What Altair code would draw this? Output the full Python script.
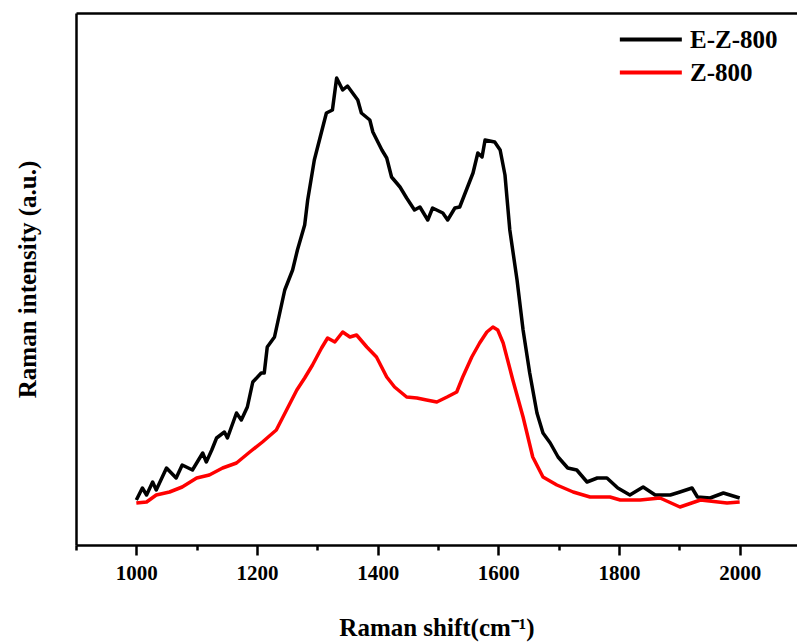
import altair as alt
import pandas as pd

# E-Z-800 spectrum (Raman shift in cm-1, intensity in a.u.)
ez_shift = [1000, 1010, 1017, 1027, 1033, 1050, 1066, 1076, 1093, 1110, 1116, 1125, 1133,
            1146, 1151, 1166, 1174, 1184, 1193, 1207, 1212, 1217, 1229, 1246, 1259, 1267,
            1279, 1284, 1295, 1315, 1325, 1332, 1342, 1350, 1367, 1373, 1387, 1392, 1407,
            1415, 1423, 1437, 1448, 1461, 1470, 1483, 1491, 1508, 1516, 1528, 1536, 1558,
            1566, 1573, 1578, 1594, 1603, 1611, 1619, 1631, 1641, 1652, 1664, 1674, 1686,
            1699, 1715, 1730, 1747, 1764, 1780, 1798, 1818, 1840, 1860, 1885, 1901, 1921,
            1930, 1951, 1973, 2000]
ez_int = [45, 57, 50, 63, 55, 77, 67, 80, 75, 92, 83, 95, 107,
          113, 107, 132, 125, 138, 163, 172, 172, 198, 208, 255, 275, 295,
          320, 345, 385, 432, 435, 467, 455, 459, 445, 432, 425, 413, 395,
          387, 368, 358, 347, 335, 338, 325, 337, 332, 325, 337, 338, 372,
          392, 388, 405, 403, 395, 370, 315, 265, 215, 172, 132, 112, 102,
          88, 77, 75, 63, 67, 67, 57, 50, 58, 50, 50, 53, 57,
          48, 47, 52, 47]

# Z-800 spectrum
z_shift = [1000, 1017, 1033, 1055, 1076, 1100, 1121, 1143, 1166, 1188, 1209, 1232, 1249,
           1266, 1279, 1292, 1307, 1317, 1329, 1342, 1354, 1365, 1382, 1398, 1415, 1428,
           1448, 1465, 1481, 1498, 1515, 1531, 1541, 1556, 1569, 1581, 1591, 1599, 1608,
           1624, 1641, 1657, 1674, 1697, 1724, 1752, 1785, 1802, 1835, 1868, 1901,
           1935, 1979, 2000]
z_int = [42, 43, 50, 53, 58, 67, 70, 77, 82, 93, 103, 115, 135,
         155, 167, 180, 197, 207, 203, 213, 208, 210, 198, 188, 168, 158,
         148, 147, 145, 143, 148, 153, 168, 188, 202, 213, 218, 215, 202,
         165, 128, 88, 68, 60, 53, 48, 48, 45, 45, 47, 38,
         45, 42, 43]

series_names = ["E-Z-800", "Z-800"]
series_colors = ["#000000", "#ff0000"]

major_ticks = [1000, 1200, 1400, 1600, 1800, 2000]
minor_ticks = [900, 1100, 1300, 1500, 1700, 1900]

df = pd.concat([
    pd.DataFrame({"shift": ez_shift, "intensity": ez_int, "series": series_names[0]}),
    pd.DataFrame({"shift": z_shift, "intensity": z_int, "series": series_names[1]}),
], ignore_index=True)

FONT = "Liberation Serif"
x_scale = alt.Scale(domain=[900, 2095], nice=False, zero=False)
y_scale = alt.Scale(domain=[0, 532], nice=False, zero=False)
color_scale = alt.Scale(domain=series_names, range=series_colors)

main = alt.Chart(df).mark_line(strokeWidth=3.5, strokeJoin="round").encode(
    x=alt.X("shift:Q", scale=x_scale,
            axis=alt.Axis(orient="bottom", values=major_ticks, format="d",
                          tickSize=10, tickWidth=2.5, tickColor="black",
                          domainWidth=2.5, domainColor="black", grid=False,
                          labelFont=FONT, labelFontSize=21, labelFontWeight="bold",
                          labelColor="black", labelPadding=7,
                          title="Raman shift(cm⁻¹)", titleFont=FONT, titleFontSize=25,
                          titleFontWeight="bold", titleColor="black", titlePadding=32)),
    y=alt.Y("intensity:Q", scale=y_scale,
            axis=alt.Axis(orient="left", ticks=False, labels=False, grid=False,
                          domainWidth=2.5, domainColor="black",
                          title="Raman intensity (a.u.)", titleFont=FONT, titleFontSize=25,
                          titleFontWeight="bold", titleColor="black", titlePadding=36)),
    color=alt.Color("series:N", scale=color_scale,
                    legend=alt.Legend(title=None, orient="none", legendX=583, legendY=14,
                                      symbolType="M-5,0H1", symbolSize=427,
                                      symbolStrokeWidth=4, padding=0,
                                      labelFont=FONT, labelFontSize=25,
                                      labelFontWeight="bold", labelColor="black",
                                      labelOffset=6, rowPadding=7)),
)

minor = alt.Chart(df).mark_rule(opacity=0).encode(
    x=alt.X("shift:Q", scale=x_scale,
            axis=alt.Axis(orient="bottom", values=minor_ticks, tickSize=5, tickWidth=2.5,
                          tickColor="black", labels=False, domain=False, grid=False,
                          title=None)),
)

top = alt.Chart(df).mark_rule(opacity=0).encode(
    x=alt.X("shift:Q", scale=x_scale,
            axis=alt.Axis(orient="top", ticks=False, labels=False, grid=False,
                          domainWidth=2.5, domainColor="black", title=None)),
)

chart = alt.layer(main, minor, top).resolve_axis(x="independent").properties(
    width=721, height=532,
    autosize=alt.AutoSizeParams(type="none"),
    padding={"left": 76, "top": 13, "right": 0, "bottom": 99},
    background="white",
).configure_view(stroke=None)

chart.save("out.html", embed_options={"renderer": "svg", "actions": False})
